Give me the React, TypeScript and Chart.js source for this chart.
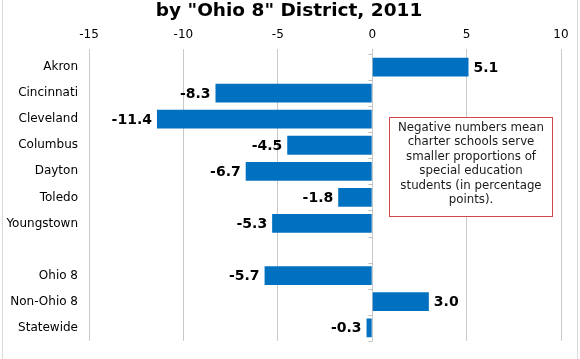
import React, { useEffect, useRef } from "react";
import { Chart, registerables } from "chart.js";

Chart.register(...registerables);

const categories = ["Akron", "Cincinnati", "Cleveland", "Columbus", "Dayton", "Toledo", "Youngstown", "", "Ohio 8", "Non-Ohio 8", "Statewide"];
const values: (number | null)[] = [5.1, -8.3, -11.4, -4.5, -6.7, -1.8, -5.3, null, -5.7, 3.0, -0.3];
const titleText = 'by "Ohio 8" District, 2011';
const noteLines = ["Negative numbers mean", "charter schools serve", "smaller proportions of", "special education", "students (in percentage", "points)."];
const FONT = "'DejaVu Sans', Verdana, sans-serif";

const decorPlugin = {
  id: "decor",
  beforeDraw(chart: any) {
    const ctx = chart.ctx;
    ctx.save();
    ctx.fillStyle = "#fff";
    ctx.fillRect(0, 0, chart.width, chart.height);
    ctx.strokeStyle = "#d9d9d9";
    ctx.lineWidth = 1;
    ctx.strokeRect(2.5, -5, chart.width - 5, chart.height + 10);
    ctx.restore();
  },
  afterDraw(chart: any) {
    const ctx = chart.ctx;
    const x = chart.scales.x;
    const y = chart.scales.y;
    ctx.save();
    // title
    ctx.fillStyle = "#000";
    ctx.font = `bold 18.5px ${FONT}`;
    ctx.textAlign = "center";
    ctx.textBaseline = "middle";
    ctx.fillText(titleText, 289, 11);
    // category axis at zero
    const x0 = Math.round(x.getPixelForValue(0)) + 0.5;
    ctx.strokeStyle = "#bfbfbf";
    ctx.lineWidth = 1;
    const n = categories.length;
    const step = (y.bottom - y.top) / n;
    ctx.beginPath();
    for (let i = 0; i <= n; i++) {
      const yy = Math.round(y.top + i * step) + 0.5;
      ctx.moveTo(x0 - 4, yy);
      ctx.lineTo(x0, yy);
    }
    ctx.stroke();
    // data labels
    ctx.font = `bold 14px ${FONT}`;
    ctx.fillStyle = "#000";
    const meta = chart.getDatasetMeta(0);
    meta.data.forEach((bar: any, i: number) => {
      const v = values[i];
      if (v === null || v === undefined) return;
      const txt = v.toFixed(1);
      if (v >= 0) {
        ctx.textAlign = "left";
        ctx.fillText(txt, bar.x + 5, bar.y + 1);
      } else {
        ctx.textAlign = "right";
        ctx.fillText(txt, bar.x - 5, bar.y + 1);
      }
    });
    // note box
    const bx = 389.5, by = 117.5, bw = 163, bh = 99;
    ctx.fillStyle = "#fff";
    ctx.fillRect(bx, by, bw, bh);
    ctx.strokeStyle = "#d0484a";
    ctx.strokeRect(bx, by, bw, bh);
    ctx.fillStyle = "#1a1a1a";
    ctx.font = `11.8px ${FONT}`;
    ctx.textAlign = "center";
    noteLines.forEach((l, i) => {
      ctx.fillText(l, bx + bw / 2, 128 + i * 14.4);
    });
    ctx.restore();
  },
};

export default function App() {
  const ref = useRef<HTMLCanvasElement>(null);
  useEffect(() => {
    document.body.style.margin = "0";
    const chart = new Chart(ref.current!, {
      type: "bar",
      data: {
        labels: categories,
        datasets: [
          {
            data: values as any,
            backgroundColor: "#0070c0",
            barPercentage: 0.72,
            categoryPercentage: 1,
          },
        ],
      },
      plugins: [decorPlugin],
      options: {
        indexAxis: "y",
        animation: false,
        responsive: false,
        layout: { padding: { top: 20, right: 19, bottom: 15, left: 0 } },
        plugins: { legend: { display: false }, tooltip: { enabled: false }, title: { display: false } },
        scales: {
          x: {
            position: "top",
            min: -15,
            max: 10,
            ticks: { stepSize: 5, color: "#000", font: { family: FONT, size: 12 }, padding: 7, maxRotation: 0 },
            grid: { color: "#c8c8c8", drawTicks: true, tickLength: 5 },
            border: { display: false },
            afterFit: (s: any) => { s.height = 34; },
          },
          y: {
            ticks: { color: "#000", font: { family: FONT, size: 12 }, padding: 11, autoSkip: false },
            grid: { display: false, drawTicks: false },
            border: { display: false },
            afterFit: (s: any) => { s.width = 89; },
          },
        },
      },
    });
    return () => chart.destroy();
  }, []);
  return (
    <div style={{ width: 580, height: 359 }}>
      <canvas ref={ref} width={580} height={359} style={{ display: "block" }} />
    </div>
  );
}
